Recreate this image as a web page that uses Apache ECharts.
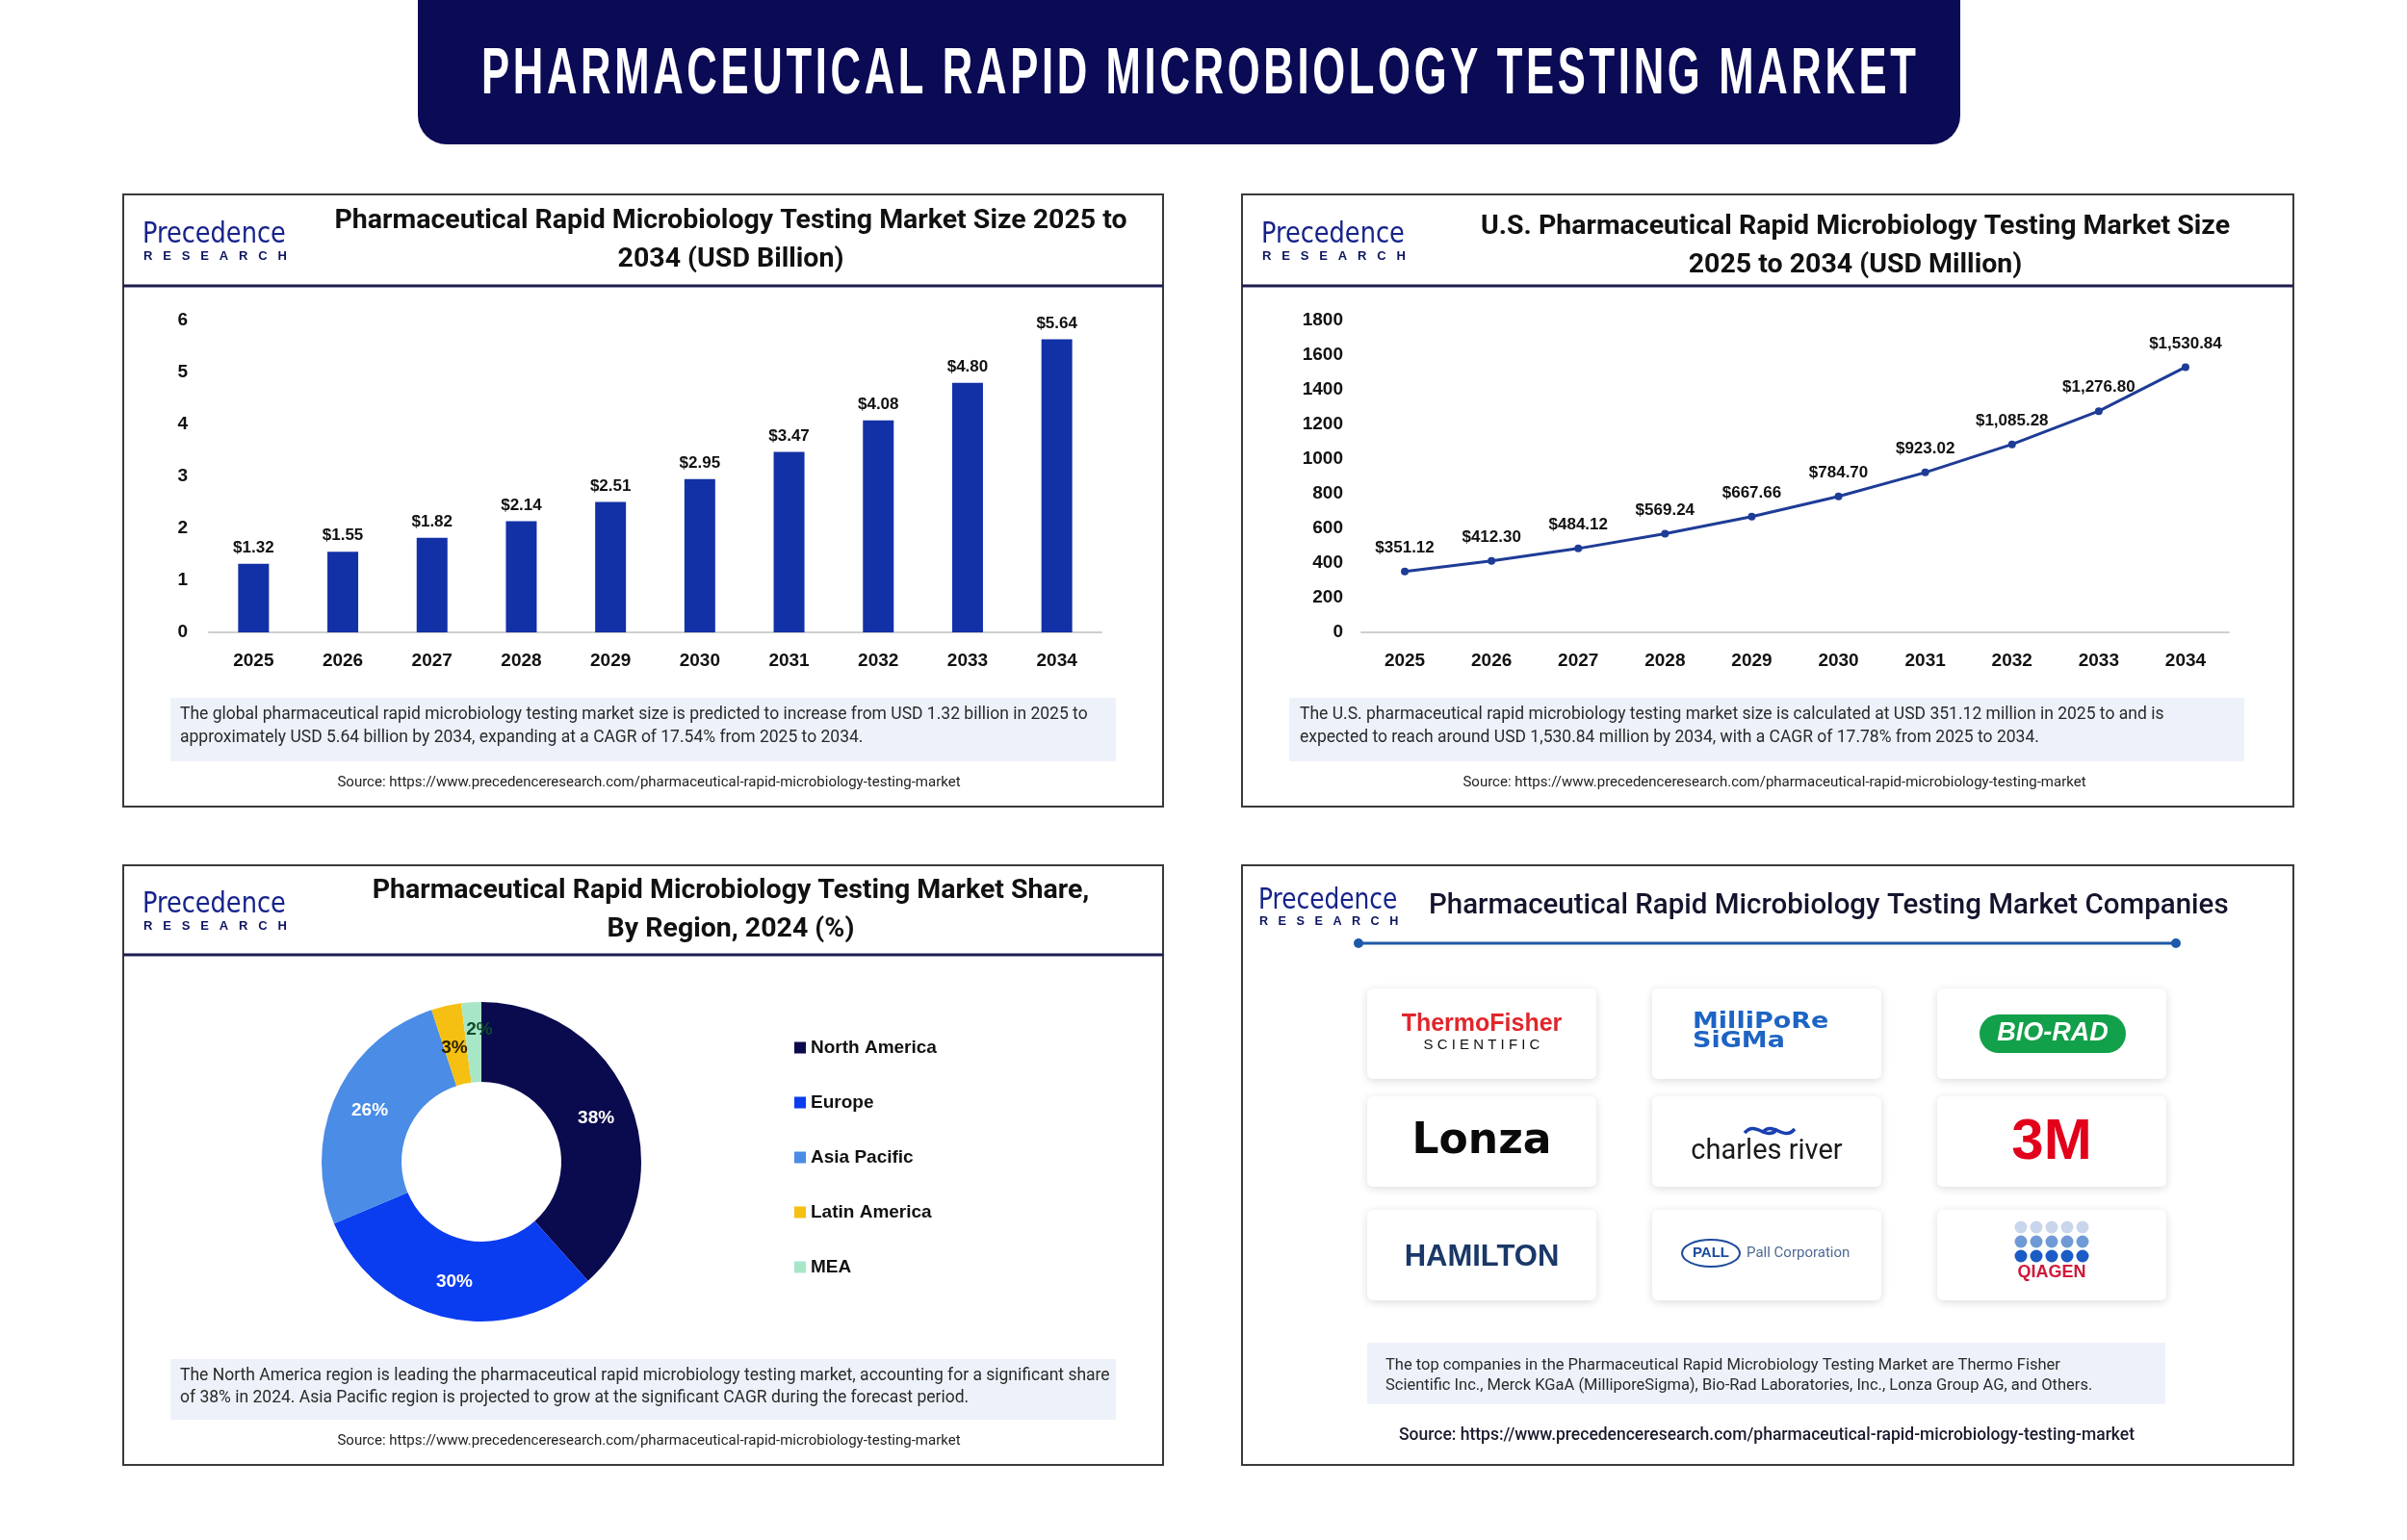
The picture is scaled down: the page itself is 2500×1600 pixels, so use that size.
<!DOCTYPE html>
<html><head><meta charset="utf-8">
<script src="https://cdn.jsdelivr.net/npm/echarts@6/dist/echarts.min.js"></script>
<style>html,body{margin:0;padding:0;background:#fff}#c{width:2500px;height:1600px}</style>
</head><body><div id="c"></div><script>
// ---------------- DATA ----------------
const years = ['2025','2026','2027','2028','2029','2030','2031','2032','2033','2034'];
const globalSize = [1.32, 1.55, 1.82, 2.14, 2.51, 2.95, 3.47, 4.08, 4.80, 5.64];
const usSize = [351.12, 412.30, 484.12, 569.24, 667.66, 784.70, 923.02, 1085.28, 1276.80, 1530.84];
const regions = ['North America', 'Europe', 'Asia Pacific', 'Latin America', 'MEA'];
const regionShare = [38, 30, 26, 3, 2];
const regionColors = ['#0a0a4e', '#0a3cf0', '#4a8ce6', '#f5c012', '#a8e6c8'];

const mainTitle = 'PHARMACEUTICAL RAPID MICROBIOLOGY TESTING MARKET';
const title1 = 'Pharmaceutical Rapid Microbiology Testing Market Size 2025 to\n2034 (USD Billion)';
const title2 = 'U.S. Pharmaceutical Rapid Microbiology Testing Market Size\n2025 to 2034 (USD Million)';
const title3 = 'Pharmaceutical Rapid Microbiology Testing Market Share,\nBy Region, 2024 (%)';
const title4 = 'Pharmaceutical Rapid Microbiology Testing Market Companies';
const note1 = 'The global pharmaceutical rapid microbiology testing market size is predicted to increase from USD 1.32 billion in 2025 to\napproximately USD 5.64 billion by 2034, expanding at a CAGR of 17.54% from 2025 to 2034.';
const note2 = 'The U.S. pharmaceutical rapid microbiology testing market size is calculated at USD 351.12 million in 2025 to and is\nexpected to reach around USD 1,530.84 million by 2034, with a CAGR of 17.78% from 2025 to 2034.';
const note3 = 'The North America region is leading the pharmaceutical rapid microbiology testing market, accounting for a significant share\nof 38% in 2024. Asia Pacific region is projected to grow at the significant CAGR during the forecast period.';
const note4 = 'The top companies in the Pharmaceutical Rapid Microbiology Testing Market are Thermo Fisher\nScientific Inc., Merck KGaA (MilliporeSigma), Bio-Rad Laboratories, Inc., Lonza Group AG, and Others.';
const source = 'Source: https://www.precedenceresearch.com/pharmaceutical-rapid-microbiology-testing-market';

// ---------------- GRAPHICS ----------------
const g = [];
function txt(x, y, t, font, fill, align, extra) {
  g.push(Object.assign({type: 'text', x: x, y: y, z: 20,
    style: {text: t, x: 0, y: 0, font: font, fill: fill || '#111',
      textAlign: align || 'left', textVerticalAlign: 'middle'}}, extra || {}));
}
function box(x, y, w, h, style, r, extra) {
  g.push(Object.assign({type: 'rect', z: 1, shape: {x: x, y: y, width: w, height: h, r: r || 0}, style: style}, extra || {}));
}
function line(x1, y1, x2, y2, stroke, lw) {
  g.push({type: 'line', z: 5, shape: {x1: x1, y1: y1, x2: x2, y2: y2}, style: {stroke: stroke, lineWidth: lw}});
}
function logo(x, y, s) {
  txt(x, y, 'Precedence', (31 * s) + 'px "DejaVu Sans Condensed"', '#16238a', 'left', {scaleX: 0.92});
  txt(x + 1, y + 22 * s, 'R   E   S   E   A   R   C   H', 'bold ' + (13 * s) + 'px "Liberation Sans"', '#0d1460', 'left');
}

// main banner
box(434, -10, 1602, 160, {fill: '#0a0a55'}, [0, 0, 30, 30]);
(function () {
  const spaced = mainTitle.split('').join('\u200A');
  const c = document.createElement('canvas').getContext('2d');
  c.font = 'bold 46px "Liberation Sans Narrow", "Liberation Sans"';
  const w = c.measureText(spaced).width;
  txt(1245, 78, spaced, 'bold 46px "Liberation Sans Narrow", "Liberation Sans"', '#ffffff', 'center', {scaleX: 1490 / w, scaleY: 1.5});
})();

// panels
const panelStyle = {fill: null, stroke: '#3a3a3a', lineWidth: 2};
box(128, 202, 1080, 636, panelStyle);
box(1290, 202, 1092, 636, panelStyle);
box(128, 899, 1080, 623, panelStyle);
box(1290, 899, 1092, 623, panelStyle);
line(128, 297, 1208, 297, '#1c1c50', 3);
line(1290, 297, 2382, 297, '#1c1c50', 3);
line(128, 992, 1208, 992, '#1c1c50', 3);

// logos & titles
logo(148, 244, 1); logo(1310, 244, 1); logo(148, 940, 1); logo(1307, 936, 0.97);
const titleFont = 'bold 28.5px Roboto';
g.push({type: 'text', z: 20, x: 759, y: 250, style: {text: title1, x: 0, y: 0, font: titleFont, fill: '#111', textAlign: 'center', textVerticalAlign: 'middle', lineHeight: 40}});
g.push({type: 'text', z: 20, x: 1927, y: 256, style: {text: title2, x: 0, y: 0, font: titleFont, fill: '#111', textAlign: 'center', textVerticalAlign: 'middle', lineHeight: 40}});
g.push({type: 'text', z: 20, x: 759, y: 946, style: {text: title3, x: 0, y: 0, font: titleFont, fill: '#111', textAlign: 'center', textVerticalAlign: 'middle', lineHeight: 40}});
txt(1484, 942, title4, '500 29.5px Roboto', '#14142e', 'left');

// company line
line(1411, 980, 2260, 980, '#1e5aa8', 3);
g.push({type: 'circle', z: 6, shape: {cx: 1411, cy: 980, r: 5}, style: {fill: '#1e5aa8'}});
g.push({type: 'circle', z: 6, shape: {cx: 2260, cy: 980, r: 5}, style: {fill: '#1e5aa8'}});

// note boxes
const noteBg = {fill: '#edf2fa'};
box(177, 725, 982, 66, noteBg);
box(1339, 725, 992, 66, noteBg);
box(177, 1412, 982, 63, noteBg);
box(1420, 1395, 829, 64, noteBg);
function note(x, y, t, font, lh) {
  g.push({type: 'text', z: 20, x: x, y: y, style: {text: t, x: 0, y: 0, font: font, fill: '#2a2a2a', textAlign: 'left', textVerticalAlign: 'middle', lineHeight: lh}});
}
note(187, 755, note1, '17.5px Roboto', 24);
note(1350, 755, note2, '17.5px Roboto', 24);
note(187, 1441, note3, '17.5px Roboto', 23);
note(1439, 1429, note4, '16.5px Roboto', 21);
txt(674, 813, source, '15px Roboto', '#222', 'center');
txt(1843, 813, source, '15px Roboto', '#222', 'center');
txt(674, 1497, source, '15px Roboto', '#222', 'center');
txt(1835, 1492, source, '500 17.5px Roboto', '#1a1a2e', 'center');

// company cards
const cardCols = [1539, 1835, 2131];
const cardRows = [1074, 1186, 1304];
cardRows.forEach(function (cy) {
  cardCols.forEach(function (cx) {
    box(cx - 119, cy - 47, 238, 94, {fill: '#fff', shadowBlur: 10, shadowColor: 'rgba(0,0,0,0.14)', shadowOffsetY: 2}, 6);
  });
});
// Thermo Fisher
txt(1539, 1064, 'ThermoFisher', 'bold 25px "Liberation Sans Narrow", "Liberation Sans"', '#e1262c', 'center');
txt(1539, 1086, 'S C I E N T I F I C', '15px "Liberation Sans"', '#111', 'center');
// MilliporeSigma
txt(1758, 1062, 'MilliPoRe', 'bold 27px "DejaVu Sans"', '#1d64c4', 'left', {scaleY: 0.85});
txt(1758, 1082, 'SiGMa', 'bold 27px "DejaVu Sans"', '#1d64c4', 'left', {scaleY: 0.85});
// BIO-RAD
box(2056, 1054, 152, 40, {fill: '#12a04a'}, 20);
txt(2132, 1074, 'BIO-RAD', 'italic bold 27px "Liberation Sans"', '#fff', 'center');
// Lonza
txt(1539, 1187, 'Lonza', 'bold 44px "DejaVu Sans"', '#0a0a0a', 'center');
// charles river
[[1812, 1175], [1830, 1175]].forEach(function (p) {
  g.push({type: 'bezierCurve', z: 20, shape: {x1: p[0], y1: p[1] + 2, cpx1: p[0] + 12, cpy1: p[1] - 12, cpx2: p[0] + 22, cpy2: p[1] + 12, x2: p[0] + 34, y2: p[1] - 2}, style: {stroke: '#1a3fb0', lineWidth: 3.5, fill: null}});
});
txt(1835, 1197, 'charles river', '29px Roboto', '#1a1a1a', 'center');
// 3M
txt(2131, 1187, '3M', 'bold 60px "Liberation Sans"', '#e2001a', 'center');
// HAMILTON
txt(1539, 1306, 'HAMILTON', 'bold 31px "Liberation Sans"', '#1a3868', 'center');
// PALL
g.push({type: 'ellipse', z: 20, shape: {cx: 1777, cy: 1302, rx: 30, ry: 14}, style: {fill: '#fff', stroke: '#1d4b9c', lineWidth: 2}});
txt(1777, 1302, 'PALL', 'bold 15px "Liberation Sans"', '#1d4b9c', 'center');
txt(1814, 1302, 'Pall Corporation', '15px Roboto', '#4f6a94', 'left');
// QIAGEN
const dotColors = ['#c9d5ea', '#6f9ad6', '#1b5bc6'];
dotColors.forEach(function (col, r) {
  for (let k = 0; k < 5; k++) {
    g.push({type: 'circle', z: 20, shape: {cx: 2099 + k * 16, cy: 1275 + r * 15, r: 6.5}, style: {fill: col}});
  }
});
txt(2131, 1322, 'QIAGEN', 'bold 18px "Liberation Sans"', '#d0193a', 'center');

// ---------------- CHART ----------------
const axisLbl = {color: '#111', fontWeight: 'bold', fontSize: 19, fontFamily: '"Liberation Sans"'};
const option = {
  animation: false,
  backgroundColor: '#ffffff',
  graphic: g,
  grid: [
    {left: 217, right: 1356, top: 333, bottom: 943},
    {left: 1414, right: 185, top: 333, bottom: 943}
  ],
  xAxis: [
    {gridIndex: 0, type: 'category', data: years, axisLine: {lineStyle: {color: '#cfcfcf', width: 2}}, axisTick: {show: false}, axisLabel: Object.assign({margin: 20}, axisLbl)},
    {gridIndex: 1, type: 'category', data: years, axisLine: {lineStyle: {color: '#cfcfcf', width: 2}}, axisTick: {show: false}, axisLabel: Object.assign({margin: 20}, axisLbl)}
  ],
  yAxis: [
    {gridIndex: 0, type: 'value', min: 0, max: 6, interval: 1, splitLine: {show: false}, axisLine: {show: false}, axisTick: {show: false}, axisLabel: Object.assign({margin: 22}, axisLbl)},
    {gridIndex: 1, type: 'value', min: 0, max: 1800, interval: 200, splitLine: {show: false}, axisLine: {show: false}, axisTick: {show: false}, axisLabel: Object.assign({margin: 19, formatter: function (v) { return String(v); }}, axisLbl)}
  ],
  legend: {
    data: regions, orient: 'vertical', left: 820, top: 1074, itemGap: 38, itemWidth: 12, itemHeight: 12, icon: 'rect',
    textStyle: {color: '#111', fontWeight: 'bold', fontSize: 19, fontFamily: '"Liberation Sans"'}
  },
  series: [
    {type: 'bar', xAxisIndex: 0, yAxisIndex: 0, data: globalSize, barWidth: 32, itemStyle: {color: '#1231a6'},
      label: {show: true, position: 'top', distance: 8, color: '#111', fontWeight: 'bold', fontSize: 17, fontFamily: '"Liberation Sans"',
        formatter: function (p) { return '$' + p.value.toFixed(2); }}},
    {type: 'line', xAxisIndex: 1, yAxisIndex: 1, data: usSize, symbol: 'circle', symbolSize: 8,
      lineStyle: {color: '#1e3c96', width: 3}, itemStyle: {color: '#1e3c96'},
      label: {show: true, position: 'top', distance: 12, color: '#111', fontWeight: 'bold', fontSize: 17, fontFamily: '"Liberation Sans"',
        formatter: function (p) { return '$' + p.value.toLocaleString('en-US', {minimumFractionDigits: 2, maximumFractionDigits: 2}); }}},
    {type: 'pie', center: [500, 1207], radius: [83, 166], startAngle: 90, clockwise: true, avoidLabelOverlap: false,
      labelLayout: {hideOverlap: false},
      label: {show: true, position: 'inside', formatter: '{c}%', color: '#fff', fontWeight: 'bold', fontSize: 19, fontFamily: '"Liberation Sans"'},
      labelLine: {show: false},
      data: regions.map(function (n, i) {
        const d = {name: n, value: regionShare[i], itemStyle: {color: regionColors[i]}};
        if (i === 3) d.label = {color: '#2a2200', offset: [0, 6]};
        if (i === 4) d.label = {color: '#0e4a2a', offset: [6, -10]};
        return d;
      })}
  ]
};
const chart = echarts.init(document.getElementById('c'));
chart.setOption(option);
</script></body></html>
